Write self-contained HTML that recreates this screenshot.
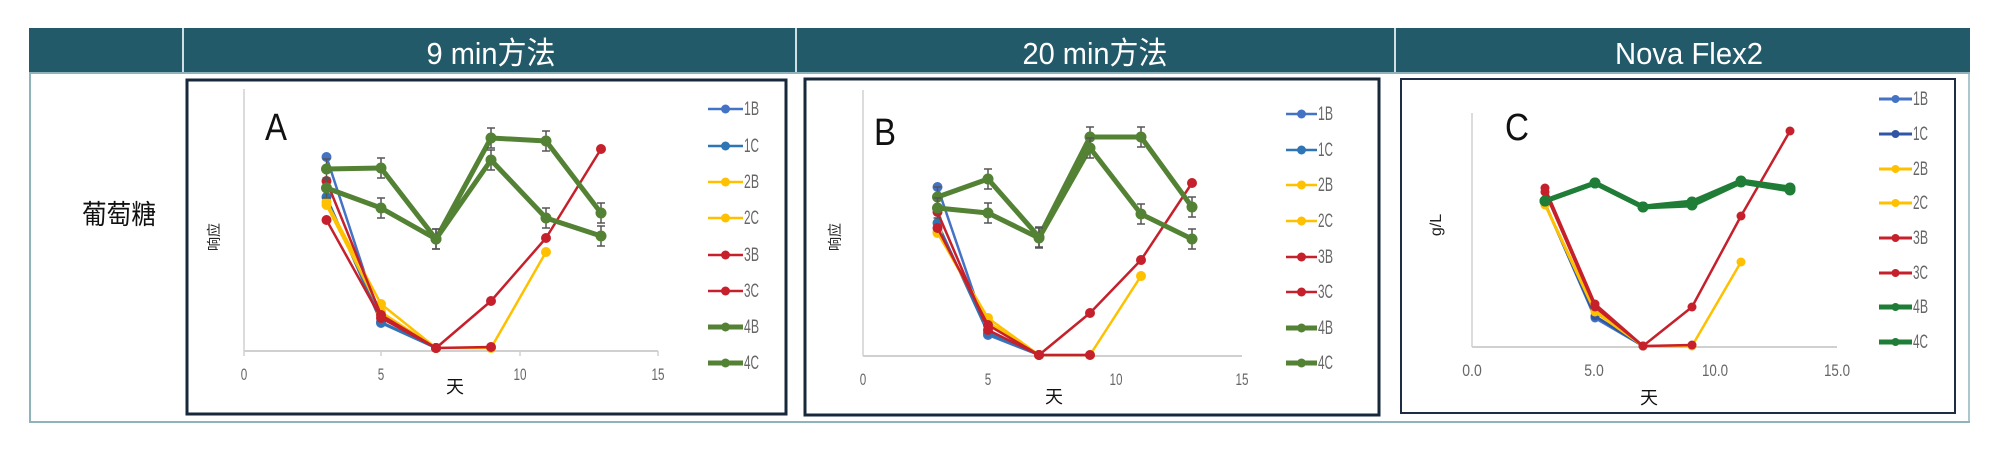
<!DOCTYPE html>
<html><head><meta charset="utf-8"><style>
html,body{margin:0;padding:0;background:#fff;width:2000px;height:456px;overflow:hidden}
</style></head><body>
<svg id="s" width="2000" height="456" xmlns="http://www.w3.org/2000/svg" font-family="Liberation Sans, Noto Sans CJK SC, sans-serif">
<rect x="29" y="28" width="1941" height="45" fill="#235a69"/>
<line x1="183" y1="28" x2="183" y2="73" stroke="#cfe0e4" stroke-width="2"/>
<line x1="796" y1="28" x2="796" y2="73" stroke="#cfe0e4" stroke-width="2"/>
<line x1="1395" y1="28" x2="1395" y2="73" stroke="#cfe0e4" stroke-width="2"/>
<line x1="29" y1="73" x2="1970" y2="73" stroke="#8fb3bb" stroke-width="2"/>
<line x1="30" y1="73" x2="30" y2="422" stroke="#8fb3bb" stroke-width="2"/>
<line x1="1969" y1="73" x2="1969" y2="422" stroke="#8fb3bb" stroke-width="1.5"/>
<line x1="29" y1="422" x2="1970" y2="422" stroke="#8fb3bb" stroke-width="2"/>
<g fill="#fff" font-size="31" text-anchor="middle">
<text x="491" y="64" textLength="129" lengthAdjust="spacingAndGlyphs">9 min方法</text>
<text x="1095" y="64" textLength="145" lengthAdjust="spacingAndGlyphs">20 min方法</text>
<text x="1689" y="64" textLength="148" lengthAdjust="spacingAndGlyphs">Nova Flex2</text>
</g>
<text x="119" y="224" font-size="27" text-anchor="middle" textLength="74" lengthAdjust="spacingAndGlyphs" fill="#111">葡萄糖</text>
<rect x="187" y="80" width="599" height="334" fill="#fff" stroke="#17283a" stroke-width="3"/>
<rect x="805" y="79" width="574" height="336" fill="#fff" stroke="#17283a" stroke-width="3"/>
<rect x="1401" y="79" width="554" height="334" fill="#fff" stroke="#1e2d45" stroke-width="2"/>
<g id="g"></g>
</svg>
<script>
var g=document.getElementById('g'),h='';
function L(x1,y1,x2,y2,c,w){h+='<line x1="'+x1+'" y1="'+y1+'" x2="'+x2+'" y2="'+y2+'" stroke="'+c+'" stroke-width="'+w+'"/>';}
function T(x,y,t,o){h+='<text x="'+x+'" y="'+y+'" '+(o||'')+'>'+t+'</text>';}
function TK(x,y,t){var w=t.length*6.5;T(x,y,t,'font-size="17" fill="#666" text-anchor="middle" textLength="'+w+'" lengthAdjust="spacingAndGlyphs"');}
var BL='#4472c4',BC='#2e75b6',Y='#ffc000',R='#c5202b',G='#548235',G2='#1f7d37';
function series(xs,pts,c,w,r,eb){
 var p=[];for(var i=0;i<pts.length;i++)if(pts[i]!=null)p.push(xs[i]+','+pts[i]);
 h+='<polyline points="'+p.join(' ')+'" fill="none" stroke="'+c+'" stroke-width="'+w+'" stroke-linejoin="round"/>';
 for(var i=0;i<pts.length;i++)if(pts[i]!=null){
  if(eb){L(xs[i],pts[i]-10,xs[i],pts[i]+10,'#555',1.5);L(xs[i]-4,pts[i]-10,xs[i]+4,pts[i]-10,'#555',1.5);L(xs[i]-4,pts[i]+10,xs[i]+4,pts[i]+10,'#555',1.5);}
  h+='<circle cx="'+xs[i]+'" cy="'+pts[i]+'" r="'+r+'" fill="'+c+'"/>';}
}
function legend(x1,x2,ys,cols,ws,rr){
 var n=['1B','1C','2B','2C','3B','3C','4B','4C'];
 for(var i=0;i<8;i++){L(x1,ys[i],x2,ys[i],cols[i],ws[i]);h+='<circle cx="'+(x1+x2)/2+'" cy="'+ys[i]+'" r="'+rr+'" fill="'+cols[i]+'"/>';
 T(x2+1,ys[i]+6,n[i],'font-size="19" fill="#666" textLength="15" lengthAdjust="spacingAndGlyphs"');}
}
var cols=[BL,BC,Y,Y,R,R,G,G],ws=[2.5,2.5,2.5,2.5,2.5,2.5,5,5];
// Panel A
L(244,89,244,351,'#d0d0d0',1.5);L(244,351,658,351,'#d0d0d0',2);
[[244,'0'],[381,'5'],[520,'10'],[658,'15']].forEach(function(t){L(t[0],351,t[0],356,'#d0d0d0',1.5);TK(t[0],380,t[1]);});
T(455,393,'天','font-size="18" fill="#111" text-anchor="middle"');
T(0,0,'响应','font-size="14" fill="#222" text-anchor="middle" transform="translate(219,237) rotate(-90)"');
T(276,140,'A','font-size="38" fill="#111" text-anchor="middle" textLength="22" lengthAdjust="spacingAndGlyphs"');
var xa=[326.5,381,436,491,546,601];
series(xa,[157,323,348],BL,2.5,5);
series(xa,[197,322,348],BC,2.5,5);
series(xa,[202,304,348,348,252],Y,2.5,5);
series(xa,[205,312,348],Y,2.5,5);
series(xa,[220,318,348,347],R,2.5,5);
series(xa,[181,315,348,301,238,149],R,2.5,5);
series(xa,[169,168,239,138,141,213],G,5,5.5,1);
series(xa,[188,208,239,160,218,236],G,5,5.5,1);
legend(708,743,[109,146,182,218,255,291,327,363],cols,ws,4.5);
// Panel B
L(863,90,863,356,'#d0d0d0',1.5);L(863,356,1242,356,'#d0d0d0',2);
[[863,'0'],[988,'5'],[1116,'10'],[1242,'15']].forEach(function(t){TK(t[0],385,t[1]);});
T(1054,403,'天','font-size="18" fill="#111" text-anchor="middle"');
T(0,0,'响应','font-size="14" fill="#222" text-anchor="middle" transform="translate(840,237) rotate(-90)"');
T(885,145,'B','font-size="38" fill="#111" text-anchor="middle" textLength="22" lengthAdjust="spacingAndGlyphs"');
var xb=[937.5,988,1039,1090,1141,1192];
series(xb,[187,335,355],BL,2.5,5);
series(xb,[223,333,355],BC,2.5,5);
series(xb,[233,318,355,355,276],Y,2.5,5);
series(xb,[232,322,355],Y,2.5,5);
series(xb,[212,330,355,355],R,2.5,5);
series(xb,[228,325,355,313,260,183],R,2.5,5);
series(xb,[197,179,237,137,137,207],G,5,5.5,1);
series(xb,[208,213,238,148,214,239],G,5,5.5,1);
legend(1286,1317,[114,150,185,221,257,292,328,363],cols,ws,4.5);
// Panel C
L(1472,113,1472,347,'#d0d0d0',1.5);L(1472,347,1837,347,'#d0d0d0',2);
[[1472,'0.0'],[1594,'5.0'],[1715,'10.0'],[1837,'15.0']].forEach(function(t){TK(t[0],376,t[1]);});
T(1649,404,'天','font-size="18" fill="#111" text-anchor="middle"');
T(0,0,'g/L','font-size="16" fill="#222" text-anchor="middle" transform="translate(1441,225) rotate(-90)"');
T(1517,140,'C','font-size="38" fill="#111" text-anchor="middle" textLength="24" lengthAdjust="spacingAndGlyphs"');
var xc=[1545,1595,1643,1692,1741,1790];
series(xc,[203,318,346],BL,2.5,4.5);
series(xc,[204,316,346],'#2f55a4',2.5,4.5);
series(xc,[205,312,346,346,262],Y,2.5,4.5);
series(xc,[204,310,346],Y,2.5,4.5);
series(xc,[192,307,346,345],R,2.5,4.5);
series(xc,[188,304,346,307,216,131],R,2.5,4.5);
series(xc,[201,183,207,202,181,188],G2,5,5.5);
series(xc,[201,183,207,205,182,190],G2,5,5.5);
legend(1879,1912,[99,134,169,203,238,273,307,342],[BL,'#2f55a4',Y,Y,R,R,G2,G2],[3,3,3,3,3,3,5,5],4);
g.innerHTML=h;
</script>
</body></html>
